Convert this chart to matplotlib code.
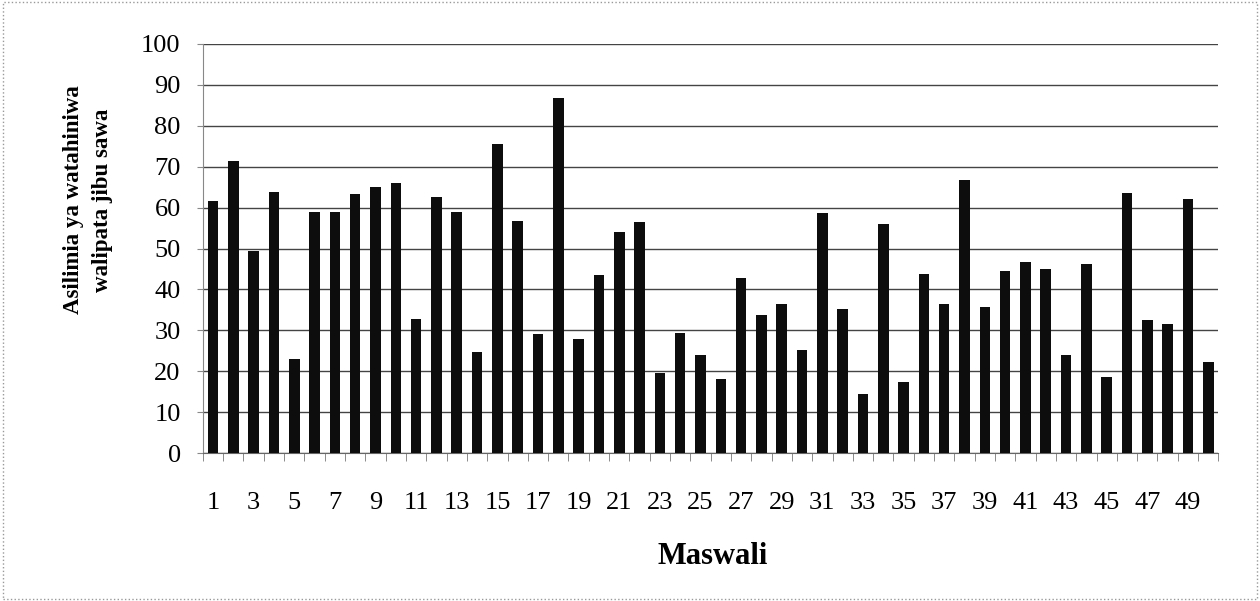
import numpy as np
import matplotlib.pyplot as plt
from matplotlib.patches import Rectangle

# question numbers and percentage of candidates who answered correctly
maswali = list(range(1, 51))
asilimia = [61.5, 71.4, 49.4, 63.9, 23.1, 59.0, 59.0, 63.2, 65.1, 66.1,
            32.8, 62.6, 59.0, 24.6, 75.5, 56.8, 29.0, 86.7, 27.8, 43.5,
            54.1, 56.5, 19.7, 29.4, 24.1, 18.2, 42.9, 33.7, 36.4, 25.1,
            58.6, 35.3, 14.4, 56.1, 17.5, 43.7, 36.4, 66.7, 35.7, 44.5,
            46.6, 44.9, 23.9, 46.1, 18.6, 63.5, 32.6, 31.5, 62.0, 22.3]
tick_labels = [str(q) for q in maswali if q % 2 == 1]

plt.rcParams['font.family'] = ['Liberation Serif', 'DejaVu Serif']

fig = plt.figure(figsize=(12.6, 6.01), dpi=100)
ax = fig.add_axes([0.161, 0.246, 0.806, 0.681])

ax.bar(maswali, asilimia, width=0.52, color='#0d0d0d', zorder=3)

ax.set_xlim(0.5, 50.5)
ax.set_ylim(0, 100)
ax.set_yticks(np.arange(0, 101, 10))
ax.set_xticks([q for q in maswali if q % 2 == 1])
ax.set_xticklabels(tick_labels)
ax.set_xticks(np.arange(0.5, 51, 1), minor=True)

ax.grid(True, axis='y', color='#444444', linewidth=1.0, zorder=0)
ax.set_axisbelow(True)

for s in ['top', 'right']:
    ax.spines[s].set_visible(False)
ax.spines['left'].set_color('#888888')
ax.spines['bottom'].set_color('#666666')

ax.tick_params(axis='x', which='major', length=0, pad=28, labelsize=19)
ax.tick_params(axis='x', which='minor', length=6, color='#777777')
ax.tick_params(axis='y', length=4, color='#888888', pad=12, labelsize=19)

# axis titles placed by hand, the y title sits above the middle of the axis
fig.text(88 / 1260, 1 - 200 / 601, "Asilimia ya watahiniwa\nwalipata jibu sawa",
         rotation=90, ha='center', va='center', fontsize=16.5,
         fontweight='bold', linespacing=1.45, multialignment='center')
fig.text(713 / 1260, 1 - 556 / 601, "Maswali", ha='center', va='center',
         fontsize=22, fontweight='bold')

# dotted frame round the whole chart
fig.patches.append(Rectangle((0.002, 0.003), 0.996, 0.994, transform=fig.transFigure,
                             fill=False, edgecolor='#999999', linestyle=':', linewidth=1.0))

fig.savefig('out.png', dpi=100)
